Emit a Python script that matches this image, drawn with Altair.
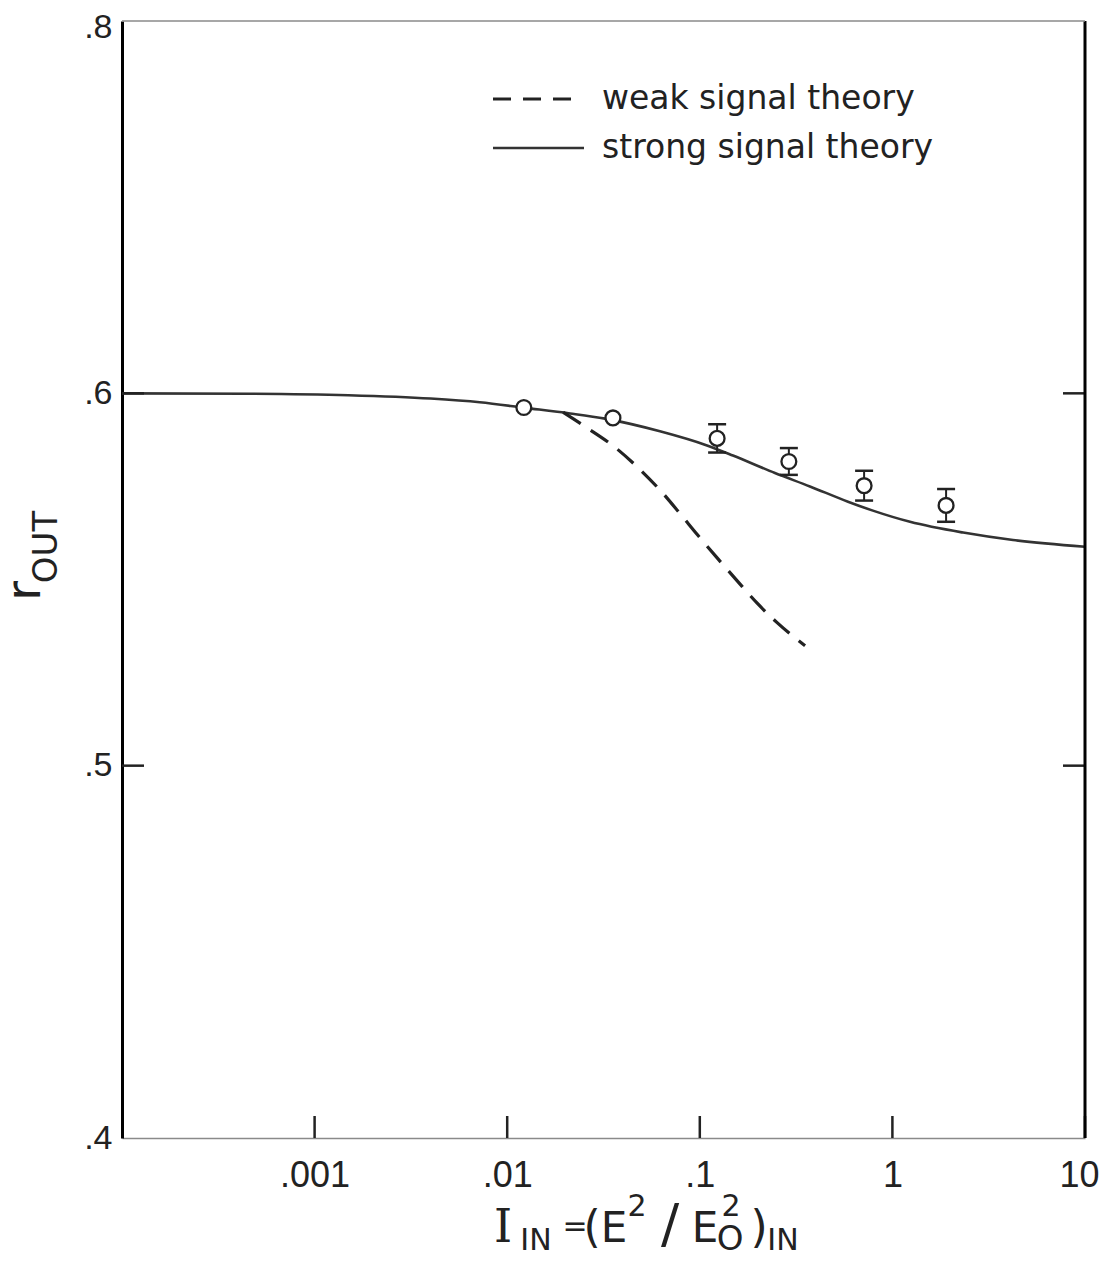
import altair as alt
import pandas as pd

# ---------------- data ----------------
strong_I = [1e-4, 4.6e-4, 1.5e-3, 4.0e-3, 7.2e-3, 0.0124, 0.0212, 0.0322, 0.0621,
            0.109, 0.1486, 0.2455, 0.373, 0.588, 0.792, 1.234, 2.33, 4.23, 10]
strong_r = [0.6000, 0.5999, 0.5995, 0.5986, 0.5976, 0.5961, 0.5946, 0.5932, 0.5898,
            0.5860, 0.5833, 0.5786, 0.5750, 0.5709, 0.5685, 0.5655, 0.5626, 0.5606, 0.5588]

weak_I = [0.0195, 0.0248, 0.0363, 0.0490, 0.0637, 0.0789, 0.0980, 0.124,
          0.156, 0.198, 0.252, 0.352]
weak_r = [0.5949, 0.5914, 0.5855, 0.5795, 0.5734, 0.5677, 0.5618, 0.5556,
          0.5497, 0.5437, 0.5384, 0.5322]

meas_I = [0.0122, 0.0354, 0.123, 0.290, 0.713, 1.90]
meas_r = [0.5962, 0.5934, 0.5879, 0.5817, 0.5752, 0.5699]
meas_err = [0.0, 0.0, 0.0038, 0.0036, 0.0040, 0.0044]

x_tick_values = [0.001, 0.01, 0.1, 1, 10]
x_tick_labels = [".001", ".01", ".1", "1", "10"]
y_tick_values = [0.4, 0.5, 0.6, 0.8]
y_tick_labels = [".4", ".5", ".6", ".8"]
y_inner_ticks = [0.5, 0.6]

legend_labels = ["weak signal theory", "strong signal theory"]

# ---------------- layout ----------------
W, H = 963, 1117
OX, OY = 122, 21          # page position of plot origin
INK = "#222222"
LINE = "#333333"
SANS = "DejaVu Sans"


def label_expr(values, labels):
    expr = "''"
    for v, l in reversed(list(zip(values, labels))):
        expr = f"abs(datum.value - {v}) < 1e-9 ? '{l}' : ({expr})"
    return expr


xscale = alt.Scale(type="log", domain=[1e-4, 10], nice=False)
yscale = alt.Scale(type="linear", domain=[0.4, 0.6, 0.8], range=[H, H / 3, 0],
                   nice=False, zero=False)

xaxis = alt.Axis(values=x_tick_values, labelExpr=label_expr(x_tick_values, x_tick_labels),
                 ticks=False, grid=False, domainColor="#8a8a8a", domainWidth=1.5,
                 labelFont="Liberation Sans", labelFontSize=36, labelPadding=20,
                 labelOffset={"condition": {"test": "datum.value > 5", "value": -6}, "value": 0},
                 labelColor=INK, labelFlush=False, labelOverlap=False, title=None)
yaxis = alt.Axis(values=y_tick_values, labelExpr=label_expr(y_tick_values, y_tick_labels),
                 ticks=False, grid=False, domainColor="black", domainWidth=3,
                 labelFont="Liberation Sans", labelFontSize=34, labelPadding=10,
                 labelOffset={"condition": {"test": "datum.value > 0.75", "value": 6}, "value": 0},
                 labelColor=INK, labelFlush=False, labelOverlap=False, title=None)


def X(field):
    return alt.X(field, type="quantitative", scale=xscale, axis=xaxis)


def Y(field):
    return alt.Y(field, type="quantitative", scale=yscale, axis=yaxis)


strong_df = pd.DataFrame({"I": strong_I, "r": strong_r})
weak_df = pd.DataFrame({"I": weak_I, "r": weak_r})
meas_df = pd.DataFrame({"I": meas_I, "r": meas_r, "e": meas_err})
meas_df["lo"] = meas_df["r"] - meas_df["e"]
meas_df["hi"] = meas_df["r"] + meas_df["e"]
err_df = meas_df[meas_df["e"] > 0]

strong = alt.Chart(strong_df).mark_line(color=LINE, strokeWidth=2.6, interpolate="monotone").encode(
    x=X("I"), y=Y("r"))
weak = alt.Chart(weak_df).mark_line(color=INK, strokeWidth=3.2, strokeDash=[21, 12],
                                    interpolate="monotone").encode(x=X("I"), y=Y("r"))

err_rule = alt.Chart(err_df).mark_rule(color=INK, strokeWidth=2).encode(
    x=X("I"), y=Y("lo"), y2="hi")
cap_lo = alt.Chart(err_df).mark_tick(color=INK, orient="horizontal", size=18, thickness=2.5,
                                      opacity=1).encode(x=X("I"), y=Y("lo"))
cap_hi = alt.Chart(err_df).mark_tick(color=INK, orient="horizontal", size=18, thickness=2.5,
                                      opacity=1).encode(x=X("I"), y=Y("hi"))
points = alt.Chart(meas_df).mark_point(shape="circle", size=220, filled=True, fill="white",
                                       stroke=INK, strokeWidth=2.3, opacity=1).encode(
    x=X("I"), y=Y("r"))

# inward ticks
xt_df = pd.DataFrame({"v": x_tick_values})
yt_df = pd.DataFrame({"v": y_inner_ticks})
x_ticks = alt.Chart(xt_df).mark_rule(color=INK, strokeWidth=2.5).encode(
    x=X("v"), y=alt.value(H), y2=alt.value(H - 22))
y_ticks_l = alt.Chart(yt_df).mark_rule(color=INK, strokeWidth=2.5).encode(
    y=Y("v"), x=alt.value(0), x2=alt.value(22))
y_ticks_r = alt.Chart(yt_df).mark_rule(color=INK, strokeWidth=2.5).encode(
    y=Y("v"), x=alt.value(W - 22), x2=alt.value(W))

one = pd.DataFrame({"k": [0]})
right_border = alt.Chart(one).mark_rule(color="black", strokeWidth=3).encode(
    x=alt.value(W), y=alt.value(0), y2=alt.value(H))
top_border = alt.Chart(one).mark_rule(color="#8a8a8a", strokeWidth=1.5).encode(
    x=alt.value(0), x2=alt.value(W), y=alt.value(0))

# legend
leg_dash = alt.Chart(one).mark_rule(color=INK, strokeWidth=3, strokeDash=[18, 12]).encode(
    x=alt.value(493 - OX), x2=alt.value(580 - OX), y=alt.value(99 - OY))
leg_solid = alt.Chart(one).mark_rule(color=LINE, strokeWidth=2.6).encode(
    x=alt.value(493 - OX), x2=alt.value(584 - OX), y=alt.value(148 - OY))
leg_txt = []
for lab, base in zip(legend_labels, [109, 158]):
    leg_txt.append(alt.Chart(pd.DataFrame({"t": [lab]})).mark_text(
        align="left", baseline="alphabetic", font=SANS, fontSize=33, color=INK).encode(
        x=alt.value(602 - OX), y=alt.value(base - OY), text="t:N"))

# axis titles built from pieces (subscripts / superscripts)
# (text, page x centre, page baseline y, size, font, angle)
pieces = [
    ("I", 503, 1242, 46, "DejaVu Serif", 0),
    ("IN", 536, 1250, 30, SANS, 0),
    ("=", 575, 1236, 30, SANS, 0),
    ("(", 592, 1242, 44, SANS, 0),
    ("E", 614, 1242, 42, SANS, 0),
    ("2", 637, 1216, 30, SANS, 0),
    ("/", 670, 1242, 54, SANS, 0),
    ("E", 705, 1242, 42, SANS, 0),
    ("2", 731, 1216, 30, SANS, 0),
    ("O", 730, 1250, 34, SANS, 0),
    (")", 759, 1242, 44, SANS, 0),
    ("IN", 783, 1250, 30, SANS, 0),
    ("r", 40, 591, 48, SANS, 270),
    ("OUT", 57, 547, 34, SANS, 270),
]
title_layers = []
for txt, px, py, fs, fnt, ang in pieces:
    title_layers.append(alt.Chart(pd.DataFrame({"t": [txt]})).mark_text(
        align="center", baseline="alphabetic", font=fnt, fontSize=fs, color=INK,
        angle=ang).encode(x=alt.value(px - OX), y=alt.value(py - OY), text="t:N"))

chart = alt.layer(
    strong, weak, err_rule, cap_lo, cap_hi, points,
    x_ticks, y_ticks_l, y_ticks_r, right_border, top_border,
    leg_dash, leg_solid, *leg_txt, *title_layers
).properties(
    width=W, height=H,
    padding={"left": OX - 8, "top": OY - 8, "right": 15, "bottom": 114},
    autosize=alt.AutoSizeParams(type="none"),
    background="white",
).configure_view(stroke=None)

chart.save("out.html", embed_options={"renderer": "svg", "actions": False})
